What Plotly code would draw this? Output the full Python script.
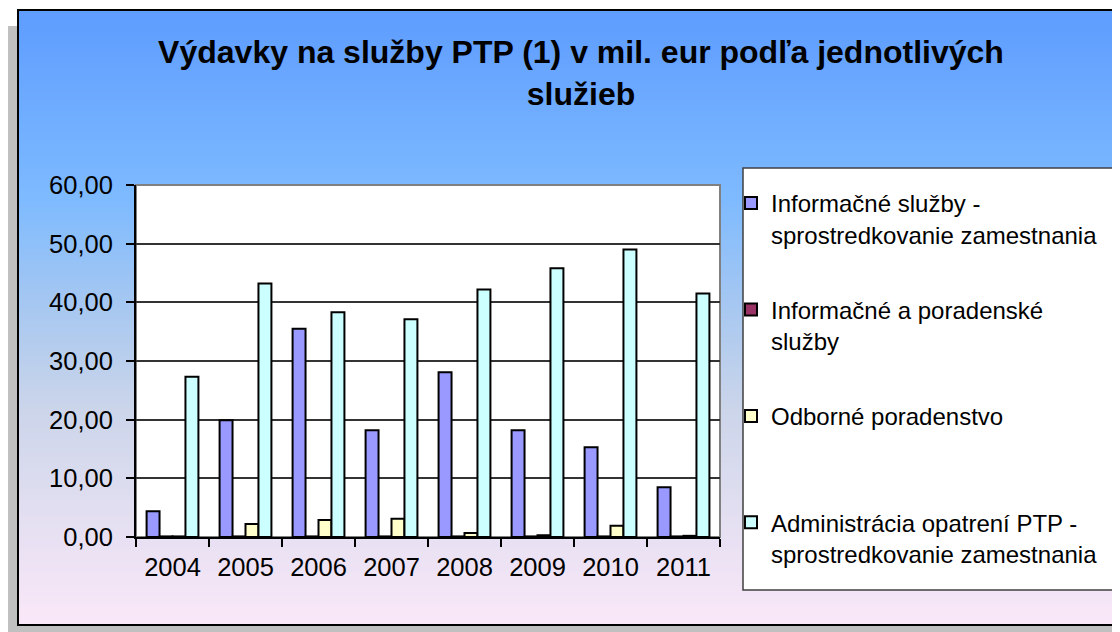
import plotly.graph_objects as go

years = ["2004", "2005", "2006", "2007", "2008", "2009", "2010", "2011"]
info_sluzby = [4.4, 19.9, 35.5, 18.2, 28.1, 18.2, 15.3, 8.5]
info_poradenske = [0.1, 0.1, 0.1, 0.1, 0.1, 0.1, 0.1, 0.1]
odborne = [0.1, 2.2, 2.9, 3.1, 0.7, 0.3, 1.9, 0.2]
administracia = [27.3, 43.2, 38.3, 37.1, 42.2, 45.8, 49.0, 41.5]

series_names = [
    "Informačné služby -<br>sprostredkovanie zamestnania",
    "Informačné a poradenské<br>služby",
    "Odborné poradenstvo<br> ",
    "Administrácia opatrení PTP -<br>sprostredkovanie zamestnania",
]
series_values = [info_sluzby, info_poradenske, odborne, administracia]
series_colors = ["#9999FF", "#993366", "#FFFFCC", "#CCFFFF"]

OFF = 8  # page body margin
W, H = 1120 - OFF, 632 - OFF
# plot area in screen pixels
SL, SR, ST, SB = 136, 720, 185, 537
L, R, T, B = SL - OFF, SR - OFF, ST - OFF, SB - OFF


def px(x):
    return (x - OFF - L) / (R - L)


def py(y):
    return (B - (y - OFF)) / (B - T)


fig = go.Figure()
for i, (name, vals, col) in enumerate(zip(series_names, series_values, series_colors)):
    fig.add_trace(go.Bar(
        x=years, y=vals, name=name, legendgroup=f"g{i}",
        marker=dict(color=col, line=dict(color="black", width=2)),
    ))

shapes = []
# shadow
shapes.append(dict(type="rect", xref="paper", yref="paper", layer="below",
                   x0=px(2), x1=px(1130), y0=py(26), y1=py(640),
                   fillcolor="#C0C0C0", line=dict(width=0)))
# gradient strips
stops = [(10, (94, 156, 255)), (197, (125, 186, 255)), (310, (168, 200, 240)),
         (410, (204, 213, 234)), (530, (230, 224, 242)), (625, (250, 232, 248))]


def grad(y):
    for (y0, c0), (y1, c1) in zip(stops[:-1], stops[1:]):
        if y0 <= y <= y1:
            t = (y - y0) / (y1 - y0)
            return "rgb(%d,%d,%d)" % tuple(round(a + (b - a) * t) for a, b in zip(c0, c1))
    return "rgb(%d,%d,%d)" % stops[-1][1]


step = 3
y = 10
while y < 625:
    y2 = min(y + step, 625)
    shapes.append(dict(type="rect", xref="paper", yref="paper", layer="below",
                       x0=px(18), x1=px(1130), y0=py(y), y1=py(y2 + 0.6),
                       fillcolor=grad(y + step / 2), line=dict(width=0)))
    y = y2
# frame border
shapes.append(dict(type="rect", xref="paper", yref="paper", layer="below",
                   x0=px(18), x1=px(1130), y0=py(10), y1=py(625),
                   line=dict(color="black", width=2)))
# plot area
shapes.append(dict(type="rect", xref="paper", yref="paper", layer="below",
                   x0=0, x1=1, y0=0, y1=1, fillcolor="white",
                   line=dict(color="#808080", width=2)))
# legend box
shapes.append(dict(type="rect", xref="paper", yref="paper", layer="below",
                   x0=px(743), x1=px(1117), y0=py(168), y1=py(590), fillcolor="white",
                   line=dict(color="#404040", width=1.5)))

fig.update_layout(
    width=W, height=H,
    margin=dict(l=L, r=W - R, t=T, b=H - B),
    paper_bgcolor="white", plot_bgcolor="white",
    font=dict(family="Liberation Sans, Arial, sans-serif", color="black"),
    title=dict(text="<b>Výdavky na služby PTP (1) v mil. eur podľa jednotlivých<br>služieb</b>",
               x=(581 - OFF) / W, xanchor="center", xref="container",
               y=1 - (63 - OFF) / H, yanchor="middle", yref="container",
               font=dict(size=32, color="black")),
    barmode="group", bargap=0.29, bargroupgap=0,
    separators=",.",
    showlegend=True,
    legend=dict(x=px(731), xanchor="left", y=py(181), yanchor="top",
                bgcolor="rgba(0,0,0,0)", borderwidth=0, maxheight=1000,
                font=dict(size=24), traceorder="grouped", tracegroupgap=41,
                valign="top"),
    shapes=shapes,
    xaxis=dict(showline=True, linecolor="black", linewidth=2, ticks="outside",
               tickson="boundaries", ticklen=8, tickwidth=1.5, tickcolor="black",
               tickfont=dict(size=25.5), showgrid=False, ticklabelstandoff=6),
    yaxis=dict(range=[0, 60], dtick=10, tickformat=".2f", showline=True,
               linecolor="black", linewidth=2, ticks="outside", ticklen=8,
               tickwidth=1.5, tickcolor="black", tickfont=dict(size=25.5),
               showgrid=True, gridcolor="#333333", gridwidth=1.5, zeroline=False,
               ticklabelstandoff=8),
)

fig.write_html("out.html")
